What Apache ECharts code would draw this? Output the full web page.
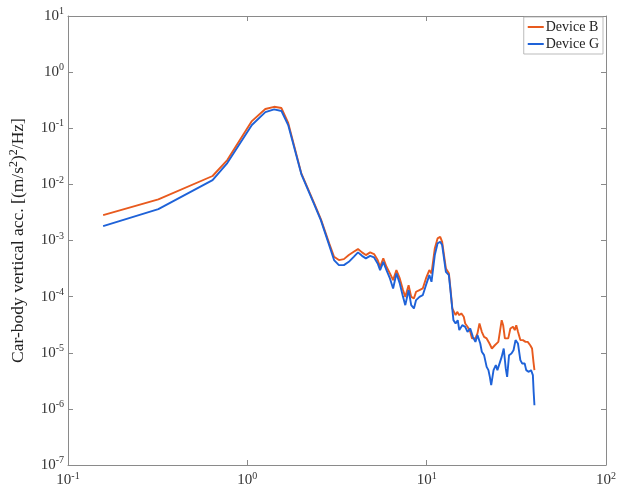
<!DOCTYPE html>
<html>
<head>
<meta charset="utf-8">
<script src="https://cdn.jsdelivr.net/npm/echarts@6/dist/echarts.min.js"></script>
<style>
html,body{margin:0;padding:0;background:#fff;}
#c{width:619px;height:496px;}
</style>
</head>
<body>
<div id="c"></div>
<script>
// Device B (orange)
const freqB = [0.157,0.319,0.640,0.773,1.06,1.26,1.41,1.55,1.69,2.00,2.37,2.57,
  2.86,3.045,3.24,3.455,3.68,3.92,4.14,4.36,4.58,4.84,5.09,5.33,5.50,5.73,5.97,6.24,6.50,6.78,7.08,7.38,7.60,7.93,8.20,8.49,8.73,9.12,9.51,9.91,10.35,10.64,11.1,11.5,11.9,12.2,12.8,
  13.3,13.6,
  13.9,14.2,14.5,14.8,15.2,15.6,16.1,16.4,16.9,17.5,17.9,18.7,19.2,19.7,20.3,20.9,21.6,22.4,23.1,24.0,25.1,25.6,26.2,26.7,27.3,28.5,29.3,30.3,31.0,31.6,32.3,33.3,34.4,35.6,36.6,37.8,38.7,39.4,39.9];
const psdB = [0.00284,0.00541,0.0141,0.0271,0.134,0.220,0.241,0.229,0.124,0.0157,0.00446,0.00240,
  8.87e-4,5.12e-4,4.48e-4,4.66e-4,5.50e-4,6.29e-4,7.03e-4,6.14e-4,5.50e-4,6.14e-4,5.73e-4,4.48e-4,3.40e-4,4.80e-4,3.40e-4,2.59e-4,1.97e-4,2.97e-4,2.11e-4,1.31e-4,9.9e-5,1.60e-4,9.9e-5,9.3e-5,1.22e-4,1.31e-4,1.40e-4,2.11e-4,2.97e-4,2.59e-4,7.23e-4,1.09e-3,1.16e-3,9.48e-4,3.18e-4,
  2.62e-4,1.31e-4,
  6.17e-5,5.36e-5,4.68e-5,5.36e-5,4.68e-5,5.02e-5,4.37e-5,3.33e-5,2.90e-5,2.36e-5,1.80e-5,1.80e-5,2.21e-5,3.33e-5,2.36e-5,1.92e-5,1.80e-5,1.46e-5,1.19e-5,1.36e-5,1.56e-5,2.36e-5,3.81e-5,3.10e-5,1.80e-5,1.80e-5,2.71e-5,2.90e-5,2.53e-5,3.10e-5,2.36e-5,1.68e-5,1.68e-5,1.56e-5,1.56e-5,1.36e-5,1.19e-5,6.89e-6,4.90e-6];
// Device G (blue)
const freqG = [0.157,0.319,0.640,0.773,1.06,1.26,1.41,1.55,1.69,2.00,2.37,2.57,
  2.86,3.045,3.24,3.455,3.68,3.92,4.14,4.36,4.58,4.84,5.09,5.33,5.50,5.73,5.97,6.24,6.50,6.78,7.08,7.38,7.60,7.93,8.20,8.49,8.73,9.12,9.51,9.91,10.35,10.64,11.1,11.5,11.9,12.2,12.8,
  13.3,13.6,
  14.1,14.5,14.9,15.2,15.8,16.4,16.9,17.5,18.1,18.7,19.2,19.9,20.3,20.9,21.6,22.1,22.5,22.9,23.6,24.3,24.8,25.3,26.2,26.9,27.6,28.1,28.8,29.7,30.5,31.3,32.3,33.3,34.1,35.2,35.9,37.1,38.2,39.1,39.5,39.9];
const psdG = [0.00181,0.00363,0.0119,0.0240,0.114,0.194,0.217,0.203,0.114,0.0153,0.00428,0.00231,
  8.28e-4,4.48e-4,3.64e-4,3.64e-4,4.17e-4,5.12e-4,6.14e-4,5.33e-4,4.80e-4,5.33e-4,5.00e-4,3.91e-4,2.97e-4,4.17e-4,2.97e-4,2.11e-4,1.40e-4,2.59e-4,1.72e-4,9.9e-5,7.05e-5,1.31e-4,7.05e-5,6.17e-5,8.67e-5,9.9e-5,1.06e-4,1.60e-4,2.42e-4,1.84e-4,5.50e-4,8.87e-4,9.48e-4,8.28e-4,2.77e-4,
  2.42e-4,1.20e-4,
  3.81e-5,3.33e-5,3.81e-5,2.53e-5,3.10e-5,2.90e-5,2.36e-5,2.71e-5,1.92e-5,1.56e-5,2.06e-5,1.46e-5,1.04e-5,9.06e-6,5.61e-6,4.90e-6,3.72e-6,2.64e-6,4.90e-6,6.01e-6,4.90e-6,5.25e-6,8.45e-6,1.19e-5,5.25e-6,3.72e-6,9.06e-6,9.72e-6,1.11e-5,1.68e-5,1.46e-5,7.38e-6,6.44e-6,6.44e-6,4.90e-6,4.57e-6,4.90e-6,3.99e-6,2.01e-6,1.16e-6];
const seriesNames = ['Device B','Device G'];
const xRange = [0.1, 100];
const yRange = [1e-7, 10];
const yTitle = 'Car-body vertical acc. [(m/s{s|2}){s|2}/Hz]';

const FONT = '"Liberation Serif", "Times New Roman", serif';
const AXIS_COLOR = '#8a8a8a';

function powLabel(v){
  const e = Math.round(Math.log10(v));
  return '{b|10}{e|' + e + '}';
}
const labelRich = {
  b:{fontFamily:FONT,fontSize:15,color:'#333'},
  e:{fontFamily:FONT,fontSize:10,color:'#333',padding:[0,0,9,0]}
};

const chart = echarts.init(document.getElementById('c'), null, {renderer:'canvas'});
const zipB = freqB.map((f,i)=>[f,psdB[i]]);
const zipG = freqG.map((f,i)=>[f,psdG[i]]);

const axisCommonX = {
  type:'log', logBase:10, min:xRange[0], max:xRange[1],
  axisLine:{show:true,lineStyle:{color:AXIS_COLOR,width:1}},
  axisTick:{show:true,inside:true,length:5,lineStyle:{color:AXIS_COLOR}},
  splitLine:{show:false}
};
const axisCommonY = {
  type:'log', logBase:10, min:yRange[0], max:yRange[1],
  axisLine:{show:true,lineStyle:{color:AXIS_COLOR,width:1}},
  axisTick:{show:true,inside:true,length:5,lineStyle:{color:AXIS_COLOR}},
  splitLine:{show:false}
};

chart.setOption({
  backgroundColor:'#fff',
  animation:false,
  grid:{left:60,right:13,top:16,bottom:31,containLabel:false},
  legend:{
    data:seriesNames,
    orient:'vertical',
    right:16, top:17,
    backgroundColor:'#fff',
    borderColor:'#aaa', borderWidth:0.8,
    padding:[3,4,3,4],
    itemGap:3,
    itemWidth:16, itemHeight:2,
    icon:'rect',
    textStyle:{fontFamily:FONT,fontSize:14,color:'#222',padding:[0,0,0,-3]}
  },
  xAxis:[
    Object.assign({}, axisCommonX, {
      position:'bottom',
      axisLabel:{show:true,margin:6,formatter:powLabel,rich:labelRich}
    }),
    Object.assign({}, axisCommonX, {
      position:'top',
      axisLabel:{show:false}
    })
  ],
  yAxis:[
    Object.assign({}, axisCommonY, {
      position:'left',
      axisLabel:{show:true,margin:4,formatter:powLabel,rich:labelRich},
      name:yTitle,
      nameLocation:'middle',
      nameGap:40,
      nameRotate:90,
      nameTextStyle:{fontFamily:FONT,fontSize:17.5,color:'#222',
        rich:{s:{fontFamily:FONT,fontSize:12,color:'#222',padding:[0,0,8,0]}}}
    }),
    Object.assign({}, axisCommonY, {
      position:'right',
      axisLabel:{show:false}
    })
  ],
  series:[
    {name:seriesNames[0],type:'line',data:zipB,showSymbol:false,symbol:'none',
     lineStyle:{color:'#E85A1E',width:1.9},itemStyle:{color:'#E85A1E'},z:2},
    {name:seriesNames[1],type:'line',data:zipG,showSymbol:false,symbol:'none',
     lineStyle:{color:'#1E62D8',width:1.9},itemStyle:{color:'#1E62D8'},z:3}
  ]
});
</script>
</body>
</html>
